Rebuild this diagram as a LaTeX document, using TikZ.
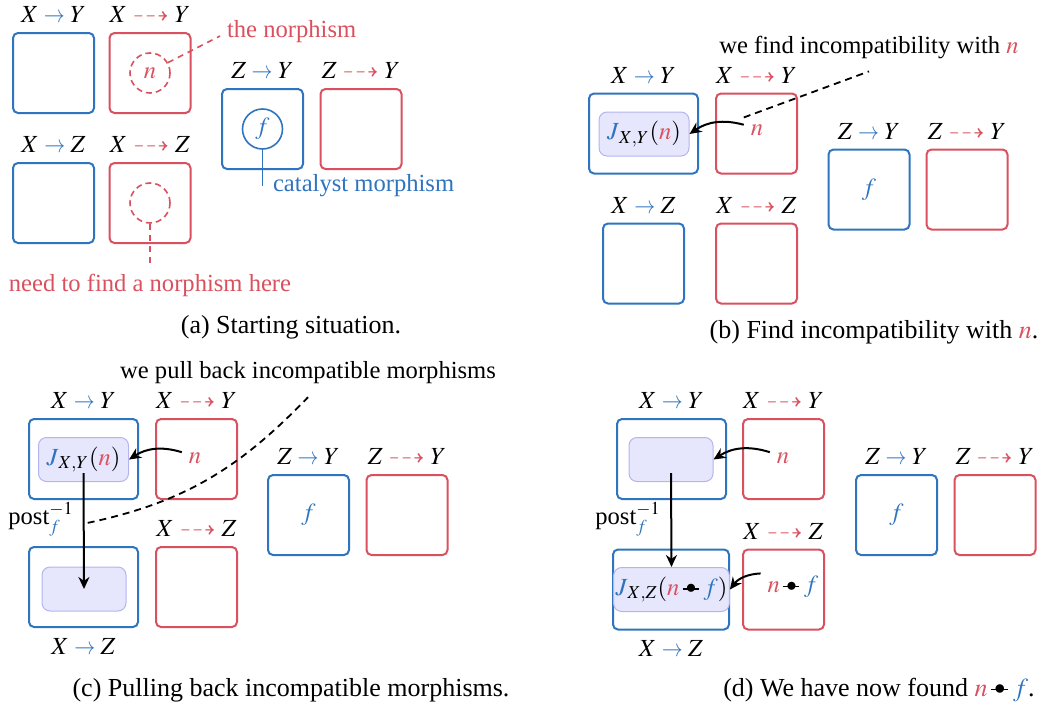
\documentclass[tikz,border=0pt]{standalone}
\usepackage{amsmath}
\usepackage{amssymb}
\usepackage{mathptmx}
\usepackage{fontspec}
\setmainfont{Liberation Serif}
\usepackage{xcolor}
\usepackage{graphicx}
\usetikzlibrary{positioning,arrows.meta}
\definecolor{homblue}{HTML}{2E74BF}
\definecolor{norred}{HTML}{D9515F}
\definecolor{lavfill}{HTML}{E6E6FC}
\definecolor{lavedge}{HTML}{B4B4F0}
\newcommand{\hto}{\mathrel{\textcolor{homblue}{\scalebox{0.85}[1]{$\to$}}}}
\newcommand{\nto}{\mathrel{\textcolor{norred}{\dashrightarrow}}}
\newcommand{\nrm}{\textcolor{norred}{n}}
\newcommand{\fcat}{\textcolor{homblue}{f}}
\newcommand{\jay}{\textcolor{homblue}{J}}
\newcommand{\ncomp}{\mathbin{\vcenter{\hbox{\rule{0.65em}{0.6pt}}}\mkern-9.6mu\vcenter{\hbox{\scalebox{0.85}{$\bullet$}}}\mkern3mu}}

\begin{document}
\begin{tikzpicture}[x=0.5pt, y=-0.5pt,
  font=\fontsize{12.3}{14.5}\selectfont,
  hom/.style={draw=homblue, line width=1pt, rounded corners=2.5pt,
              minimum width=40.5pt, minimum height=40pt, inner sep=0pt},
  nor/.style={draw=norred, line width=1pt, rounded corners=2.5pt,
              minimum width=40.5pt, minimum height=40pt, inner sep=0pt},
  wide/.style={minimum width=54.5pt},
  jbox/.style={fill=lavfill, draw=lavedge, rounded corners=4pt, line width=0.5pt,
               minimum width=45pt, minimum height=22pt, inner sep=1pt},
  ring/.style={circle, minimum size=20pt, inner sep=0pt, line width=0.8pt},
  lbl/.style={inner sep=0pt},
  capt/.style={font=\fontsize{13}{15}\selectfont},
  nordash/.style={draw=norred, line width=0.8pt, dash pattern=on 3pt off 2.5pt},
  blackdash/.style={line width=0.9pt, dash pattern=on 3.5pt off 2.5pt},
  arrow/.style={-{Stealth[length=6pt, width=5.5pt]}, line width=1pt}
]
\useasboundingbox (0,0) rectangle (1049,712);

% (a) starting situation
\node[hom] (axy) at (53.5,73) {};
\node[nor] (anxy) at (150,73) {};
\node[hom] (axz) at (53.5,203) {};
\node[nor] (anxz) at (150,203) {};
\node[hom] (azy) at (262.5,129) {};
\node[nor] (anzy) at (361,129) {};
\node[lbl, above=4.5pt of axy] (laxy) {$X \hto Y$};
\node[lbl, above=4.5pt of anxy] (lanxy) {$X \nto Y$};
\node[lbl, above=4.5pt of axz] (laxz) {$X \hto Z$};
\node[lbl, above=4.5pt of anxz] (lanxz) {$X \nto Z$};
\node[lbl, above=4.5pt of azy] (lazy) {$Z \hto Y$};
\node[lbl, above=4.5pt of anzy] (lanzy) {$Z \nto Y$};

\node[ring, draw=norred, dash pattern=on 3pt off 2pt] (an) at (anxy) {$\nrm$};
\node[text=norred, anchor=west] (anote) at (220,32) {the norphism};
\draw[nordash] (an.30) -- ([yshift=-2pt]anote.west);

\node[ring, draw=homblue] (af) at (azy) {$\fcat$};
\node[text=homblue, anchor=west] (acat) at (266,186) {catalyst morphism};
\draw[homblue, line width=0.8pt] (af.south) -- (af.south |- acat.west);

\node[ring, draw=norred, dash pattern=on 3pt off 2pt] (ahole) at (anxz) {};
\node[text=norred] (aneed) at (150,285) {need to find a norphism here};
\draw[nordash] (ahole.south) -- (aneed.north);

\node[capt] (capa) at (291,327) {(a) Starting situation.};

% (b) find incompatibility
\node[hom, wide] (bxy) at (643.5,133.5) {};
\node[jbox] (bj) at (644,134) {$\jay_{X,Y}(\nrm)$};
\node[nor] (bnxy) at (756.5,133.5) {};
\node (bn) at (757,130) {$\nrm$};
\node[hom] (bxz) at (643.5,263.5) {};
\node[nor] (bnxz) at (756.5,263.5) {};
\node[hom] (bzy) at (869,189.5) {$\fcat$};
\node[nor] (bnzy) at (967,189.5) {};
\node[lbl, above=4.5pt of bxy] (lbxy) {$X \hto Y$};
\node[lbl, above=4.5pt of bnxy] (lbnxy) {$X \nto Y$};
\node[lbl, above=4.5pt of bxz] (lbxz) {$X \hto Z$};
\node[lbl, above=4.5pt of bnxz] (lbnxz) {$X \nto Z$};
\node[lbl, above=4.5pt of bzy] (lbzy) {$Z \hto Y$};
\node[lbl, above=4.5pt of bnzy] (lbnzy) {$Z \nto Y$};

\draw[arrow] (bn) to[bend right=25] (bj.east);
\node (bfind) at (869,47) {we find incompatibility with $\nrm$};
\draw[blackdash] (bn.north west) -- ([yshift=-3pt]bfind.south);

\node[capt] (capb) at (874,332) {(b) Find incompatibility with $\nrm$.};

% (c) pulling back
\node[hom, wide] (cxy) at (83.5,459) {};
\node[jbox] (cj) at (83.5,459.5) {$\jay_{X,Y}(\nrm)$};
\node[nor] (cnxy) at (196.5,459) {};
\node (cn) at (195,458) {$\nrm$};
\node[hom] (czy) at (308.5,515) {$\fcat$};
\node[nor] (cnzy) at (407,515) {};
\node[hom, wide] (cxz) at (83.5,587) {};
\node[jbox, minimum width=42pt] (cj2) at (84,589) {};
\node[nor] (cnxz) at (196.5,587) {};
\node[lbl, above=4.5pt of cxy] (lcxy) {$X \hto Y$};
\node[lbl, above=4.5pt of cnxy] (lcnxy) {$X \nto Y$};
\node[lbl, above=4.5pt of czy] (lczy) {$Z \hto Y$};
\node[lbl, above=4.5pt of cnzy] (lcnzy) {$Z \nto Y$};
\node[lbl, above=4.5pt of cnxz] (lcnxz) {$X \nto Z$};
\node[lbl, below=5pt of cxz] (lcxz) {$X \hto Z$};

\draw[arrow] (cn) to[bend right=25] (cj.east);
\draw[arrow] ([yshift=4.5pt]cj.south) -- coordinate[pos=0.43] (cmid) (cj2.center);
\node (cpost) at (41,519) {post$_{\fcat}^{-1}$};
\node (cpull) at (308,373) {we pull back incompatible morphisms};
\draw[blackdash] ([xshift=2pt]cmid) to[out=12, in=226] ([yshift=-3pt]cpull.south);

\node[capt] (capc) at (291,690) {(c) Pulling back incompatible morphisms.};

% (d) found it
\node[hom, wide] (dxy) at (671.5,459) {};
\node[jbox, minimum width=42pt] (dj) at (671,459.5) {};
\node[nor] (dnxy) at (783.5,459) {};
\node (dn) at (783,458) {$\nrm$};
\node[hom, minimum width=58pt] (dxz) at (671,589.5) {};
\node[jbox, minimum width=53.5pt] (dj2) at (671.5,589.5) {$\jay_{X,Z}(\nrm\ncomp\fcat)$};
\node[nor] (dnxz) at (783.5,589.5) {};
\node (dnf) at (793,587) {$\nrm\ncomp\fcat$};
\node[hom] (dzy) at (896.5,515) {$\fcat$};
\node[nor] (dnzy) at (995,515) {};
\node[lbl, above=4.5pt of dxy] (ldxy) {$X \hto Y$};
\node[lbl, above=4.5pt of dnxy] (ldnxy) {$X \nto Y$};
\node[lbl, above=4.5pt of dzy] (ldzy) {$Z \hto Y$};
\node[lbl, above=4.5pt of dnzy] (ldnzy) {$Z \nto Y$};
\node[lbl, above=4.5pt of dnxz] (ldnxz) {$X \nto Z$};
\node[lbl, below=5pt of dxz] (ldxz) {$X \hto Z$};

\draw[arrow] (dn) to[bend right=25] (dj.east);
\draw[arrow] (dnf) to[bend right=25] (dj2.east);
\draw[arrow] ([yshift=4.5pt]dj.south) -- (dj2.north);
\node (dpost) at (628,519) {post$_{\fcat}^{-1}$};

\node[capt] (capd) at (879,690) {(d) We have now found $\nrm\ncomp\fcat$.};

\end{tikzpicture}
\end{document}
